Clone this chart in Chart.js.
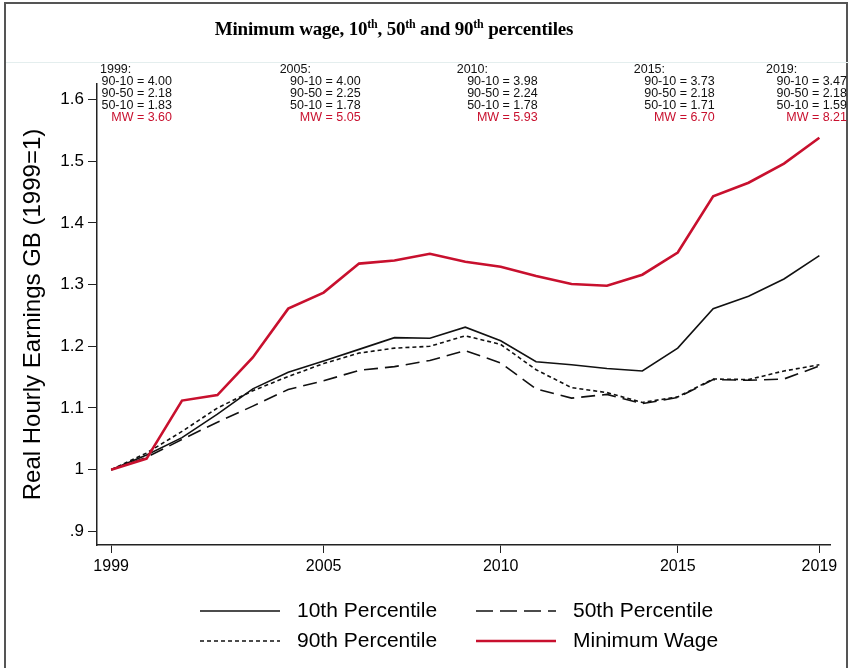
<!DOCTYPE html>
<html>
<head>
<meta charset="utf-8">
<script src="https://cdn.jsdelivr.net/npm/chart.js@4"></script>
<style>
  html, body { margin: 0; padding: 0; background: #fff; }
  #wrap { position: relative; width: 849px; height: 668px; overflow: hidden; }
  #frame { position: absolute; left: 4px; top: 2px; width: 840px; height: 700px; border: 2px solid #555; }
  #sep { position: absolute; left: 6px; top: 62px; width: 843px; height: 1px; background: #e4eeee; }
  #title { position: absolute; left: 0; top: 17px; width: 788px; text-align: center;
           font: bold 19px "Liberation Serif", "Times New Roman", serif; color: #000; letter-spacing: -0.2px; }
  #title sup { font-size: 12px; }
  canvas { position: absolute; left: 0; top: 0; }
</style>
</head>
<body>
<div id="wrap">
  <div id="frame"></div>
  <div id="sep"></div>
  <canvas id="chart" width="849" height="668"></canvas>
  <div id="title">Minimum wage, 10<sup>th</sup>, 50<sup>th</sup> and 90<sup>th</sup> percentiles</div>
</div>
<script>
// real hourly earnings, index 1999 = 1
var years = [1999, 2000, 2001, 2002, 2003, 2004, 2005, 2006, 2007, 2008, 2009,
             2010, 2011, 2012, 2013, 2014, 2015, 2016, 2017, 2018, 2019];
var p10 = [1.000, 1.024, 1.052, 1.090, 1.131, 1.158, 1.176, 1.195, 1.214, 1.213, 1.231,
           1.209, 1.175, 1.170, 1.164, 1.160, 1.197, 1.261, 1.281, 1.309, 1.347];
var p50 = [1.000, 1.020, 1.049, 1.077, 1.103, 1.130, 1.144, 1.161, 1.167, 1.177, 1.193,
           1.173, 1.131, 1.116, 1.122, 1.107, 1.117, 1.146, 1.145, 1.147, 1.168];
var p90 = [1.000, 1.027, 1.062, 1.100, 1.128, 1.151, 1.172, 1.189, 1.197, 1.200, 1.217,
           1.203, 1.162, 1.133, 1.125, 1.109, 1.118, 1.147, 1.146, 1.160, 1.170];
var minWage = [1.000, 1.018, 1.112, 1.121, 1.182, 1.261, 1.287, 1.334, 1.339, 1.350, 1.337,
               1.329, 1.314, 1.301, 1.298, 1.316, 1.352, 1.443, 1.465, 1.496, 1.538];

var xTicks = [1999, 2005, 2010, 2015, 2019];
var yTicks = [0.9, 1.0, 1.1, 1.2, 1.3, 1.4, 1.5, 1.6];

// ratio notes along the top
var noteYears = [1999, 2005, 2010, 2015, 2019];
var ratio9010 = [4.00, 4.00, 3.98, 3.73, 3.47];
var ratio9050 = [2.18, 2.25, 2.24, 2.18, 2.18];
var ratio5010 = [1.83, 1.78, 1.78, 1.71, 1.59];
var mwLevel = [3.60, 5.05, 5.93, 6.70, 8.21];

var RED = '#c8102e';

function pts(vals) {
  return vals.map(function (v, i) { return { x: years[i], y: v }; });
}

var notesPlugin = {
  id: 'notes',
  afterDraw: function (chart) {
    var ctx = chart.ctx;
    var xs = chart.scales.x;
    ctx.save();
    ctx.font = '12.5px "Liberation Sans", Arial, sans-serif';
    ctx.textBaseline = 'middle';
    noteYears.forEach(function (yr, i) {
      var px = xs.getPixelForValue(yr);
      var right = Math.min(Math.max(px + 37, 172), 847);
      var left = Math.max(right - 81, 100);
      ctx.fillStyle = '#111';
      ctx.textAlign = 'left';
      ctx.fillText(yr + ':', left, 70);
      ctx.textAlign = 'right';
      ctx.fillText('90-10 = ' + ratio9010[i].toFixed(2), right, 82);
      ctx.fillText('90-50 = ' + ratio9050[i].toFixed(2), right, 94);
      ctx.fillText('50-10 = ' + ratio5010[i].toFixed(2), right, 106);
      ctx.fillStyle = RED;
      ctx.fillText('MW = ' + mwLevel[i].toFixed(2), right, 118);
    });
    ctx.restore();
  }
};

var legendPlugin = {
  id: 'bottomLegend',
  afterDraw: function (chart) {
    var ctx = chart.ctx;
    var cols = [200, 476];
    var rows = [611, 641];
    var slots = [[0, 0], [1, 0], [0, 1], [1, 1]];
    ctx.save();
    ctx.font = '21px "Liberation Sans", Arial, sans-serif';
    ctx.textBaseline = 'middle';
    ctx.textAlign = 'left';
    chart.data.datasets.forEach(function (ds, i) {
      var x = cols[slots[i][0]], y = rows[slots[i][1]];
      ctx.strokeStyle = ds.borderColor;
      ctx.lineWidth = ds.borderWidth;
      ctx.setLineDash(ds.legendDash || ds.borderDash || []);
      ctx.beginPath();
      ctx.moveTo(x, y);
      ctx.lineTo(x + 80, y);
      ctx.stroke();
      ctx.setLineDash([]);
      ctx.fillStyle = '#000';
      ctx.fillText(ds.label, x + 97, y);
    });
    ctx.restore();
  }
};

new Chart(document.getElementById('chart'), {
  type: 'line',
  data: {
    datasets: [
      { label: '10th Percentile', data: pts(p10), borderColor: '#111', borderWidth: 1.6, order: 1 },
      { label: '50th Percentile', data: pts(p50), borderColor: '#111', borderWidth: 1.6,
        borderDash: [14, 7], legendDash: [17, 7], order: 1 },
      { label: '90th Percentile', data: pts(p90), borderColor: '#111', borderWidth: 1.6,
        borderDash: [4, 3], order: 1 },
      { label: 'Minimum Wage', data: pts(minWage), borderColor: RED, borderWidth: 2.6, order: 0 }
    ]
  },
  options: {
    responsive: false,
    animation: false,
    devicePixelRatio: 1,
    elements: { point: { radius: 0 }, line: { tension: 0, borderCapStyle: 'butt' } },
    layout: { padding: { left: 0, right: 19, top: 84, bottom: 0 } },
    plugins: { legend: { display: false }, tooltip: { enabled: false } },
    scales: {
      x: {
        type: 'linear',
        min: 1998.6,
        max: 2019.3,
        afterBuildTicks: function (s) { s.ticks = xTicks.map(function (v) { return { value: v }; }); },
        afterFit: function (s) { s.height = 123; },
        ticks: {
          color: '#000',
          padding: 4,
          font: { family: '"Liberation Sans", Arial, sans-serif', size: 16 },
          maxRotation: 0,
          callback: function (v) { return String(v); }
        },
        grid: { drawOnChartArea: false, drawTicks: true, tickLength: 8, color: '#222', lineWidth: 1 },
        border: { display: true, color: '#222', width: 1.5 }
      },
      y: {
        min: 0.878,
        max: 1.625,
        afterBuildTicks: function (s) { s.ticks = yTicks.map(function (v) { return { value: v }; }); },
        afterFit: function (s) { s.width = 97; },
        ticks: {
          color: '#000',
          padding: 4,
          font: { family: '"Liberation Sans", Arial, sans-serif', size: 17 },
          callback: function (v) {
            return (Math.round(v * 10) / 10).toString().replace(/^0\./, '.');
          }
        },
        grid: { drawOnChartArea: false, drawTicks: true, tickLength: 9, color: '#222', lineWidth: 1 },
        border: { display: true, color: '#222', width: 1.5 },
        title: {
          display: true,
          text: 'Real Hourly Earnings GB (1999=1)',
          color: '#000',
          padding: { top: 19, bottom: 0 },
          font: { family: '"Liberation Sans", Arial, sans-serif', size: 24 }
        }
      }
    }
  },
  plugins: [notesPlugin, legendPlugin]
});
</script>
</body>
</html>
